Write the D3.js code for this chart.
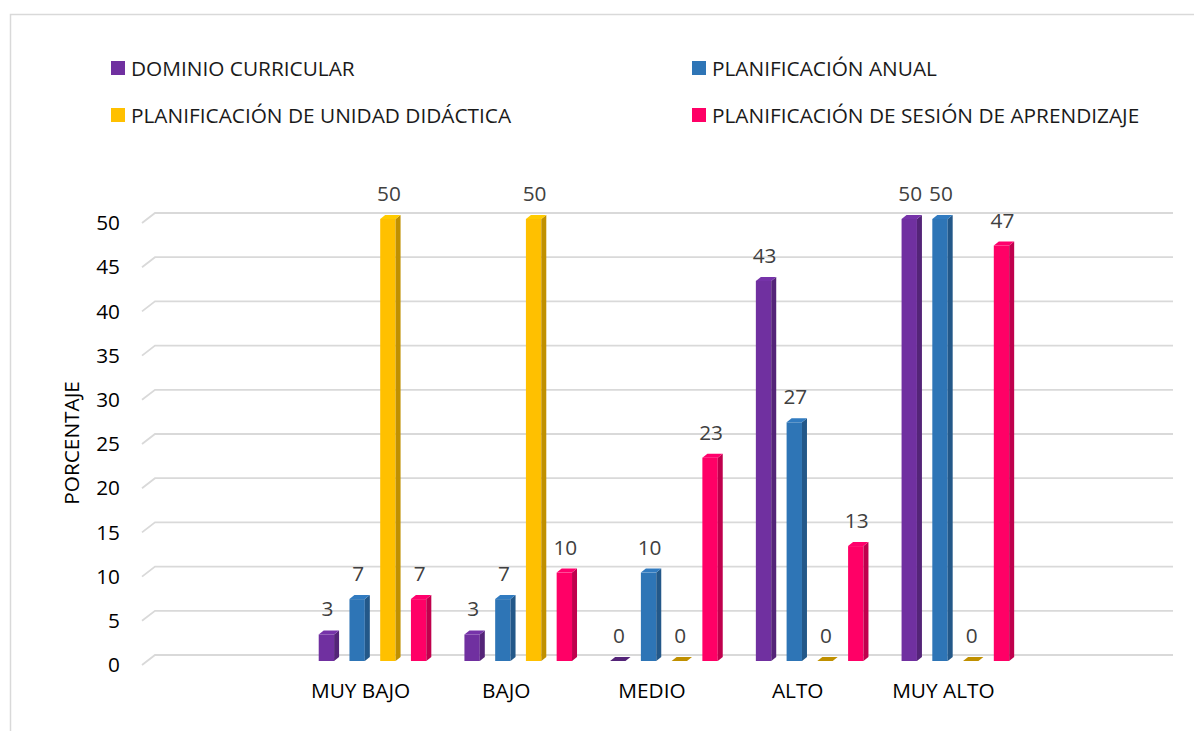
<!DOCTYPE html>
<html>
<head>
<meta charset="utf-8">
<script src="https://cdn.jsdelivr.net/npm/d3@7"></script>
<style>
  body { margin: 0; background: #fff; }
  text { font-family: "Open Sans", "Liberation Sans", Arial, sans-serif; }
</style>
</head>
<body>
<svg width="1194" height="731"></svg>
<script>
const categories = ["MUY BAJO", "BAJO", "MEDIO", "ALTO", "MUY ALTO"];
const seriesNames = [
  "DOMINIO CURRICULAR",
  "PLANIFICACIÓN ANUAL",
  "PLANIFICACIÓN DE UNIDAD DIDÁCTICA",
  "PLANIFICACIÓN DE SESIÓN DE APRENDIZAJE"
];
const dominio = [3, 3, 0, 43, 50];
const anual = [7, 7, 10, 27, 50];
const unidad = [50, 50, 0, 0, 0];
const sesion = [7, 10, 23, 13, 47];
const yTicks = [0, 5, 10, 15, 20, 25, 30, 35, 40, 45, 50];

const colors = ["#7030A0", "#2E75B6", "#FFC000", "#FF0066"];
const values = [dominio, anual, unidad, sesion];
const fontFam = '"Open Sans", "Liberation Sans", Arial, sans-serif';
const fs = 20.8;

const svg = d3.select("svg");

// chart frame
svg.append("rect")
  .attr("x", 10.5).attr("y", 14.5)
  .attr("width", 1200).attr("height", 740)
  .attr("fill", "#fff").attr("stroke", "#d9d9d9").attr("stroke-width", 1.5);

const x = d3.scaleBand().domain(categories).range([142, 1162])
  .paddingInner(0).paddingOuter(1);
const xs = d3.scaleBand().domain(seriesNames).range([31, 138.6]).paddingInner(0.5);
const y = d3.scaleLinear().domain([0, 50]).range([655, 213]);

// 3D offsets
const front = 6, dx = 5, dy = -4;

// gridlines with little wall slant
const grid = svg.append("g");
yTicks.forEach((t) => {
  grid.append("path")
    .attr("d", `M142,${y(t) + 10}L155,${y(t)}L1173,${y(t)}`)
    .attr("fill", "none").attr("stroke", "#d9d9d9").attr("stroke-width", 1.8);
});

// y tick labels
const yAxis = svg.append("g")
  .attr("transform", "translate(126,10)")
  .call(d3.axisLeft(y).tickValues(yTicks).tickSize(0).tickPadding(6));
yAxis.select(".domain").remove();
yAxis.selectAll("text").attr("font-size", fs).attr("fill", "#000")
  .style("font-family", fontFam);

// x category labels
const xAxis = svg.append("g")
  .attr("transform", "translate(0,677)")
  .call(d3.axisBottom(x).tickSize(0).tickPadding(6));
xAxis.select(".domain").remove();
xAxis.selectAll("text").attr("font-size", fs).attr("fill", "#000")
  .style("font-family", fontFam);

// bars
const bars = svg.append("g");
seriesNames.forEach((s, si) => {
  const c = d3.color(colors[si]);
  const side = c.darker(0.8).formatHex();
  const topc = c.brighter(0.15).formatHex();
  categories.forEach((cat, ci) => {
    const v = values[si][ci];
    const fx = x(cat) + xs(s);
    const w = xs.bandwidth();
    const bot = y(0) + front;
    const top = y(v) + front;
    const g = bars.append("g");
    if (v > 0) {
      g.append("rect").attr("x", fx).attr("y", top)
        .attr("width", w).attr("height", bot - top).attr("fill", colors[si]);
      g.append("path")
        .attr("d", `M${fx + w},${top}L${fx + w + dx},${top + dy}L${fx + w + dx},${bot + dy}L${fx + w},${bot}Z`)
        .attr("fill", side);
    }
    g.append("path")
      .attr("d", `M${fx},${top}L${fx + dx},${top + dy}L${fx + w + dx},${top + dy}L${fx + w},${top}Z`)
      .attr("fill", v > 0 ? topc : side);
    g.append("text")
      .attr("x", fx + w / 2 + 1).attr("y", top - 18)
      .attr("text-anchor", "middle").attr("font-size", fs).attr("fill", "#404040")
      .text(v);
  });
});

// y axis title
svg.append("text")
  .attr("transform", "translate(79,443) rotate(-90)")
  .attr("text-anchor", "middle").attr("font-size", fs).attr("fill", "#000")
  .text("PORCENTAJE");

// legend
const legendPos = [[111, 68], [692, 68], [111, 115], [692, 115]];
seriesNames.forEach((s, i) => {
  const [lx, ly] = legendPos[i];
  svg.append("rect").attr("x", lx).attr("y", ly - 7).attr("width", 14).attr("height", 14)
    .attr("fill", colors[i]);
  svg.append("text").attr("x", lx + 20).attr("y", ly + 7.5)
    .attr("font-size", fs).attr("fill", "#1a1a1a").text(s);
});
</script>
</body>
</html>
